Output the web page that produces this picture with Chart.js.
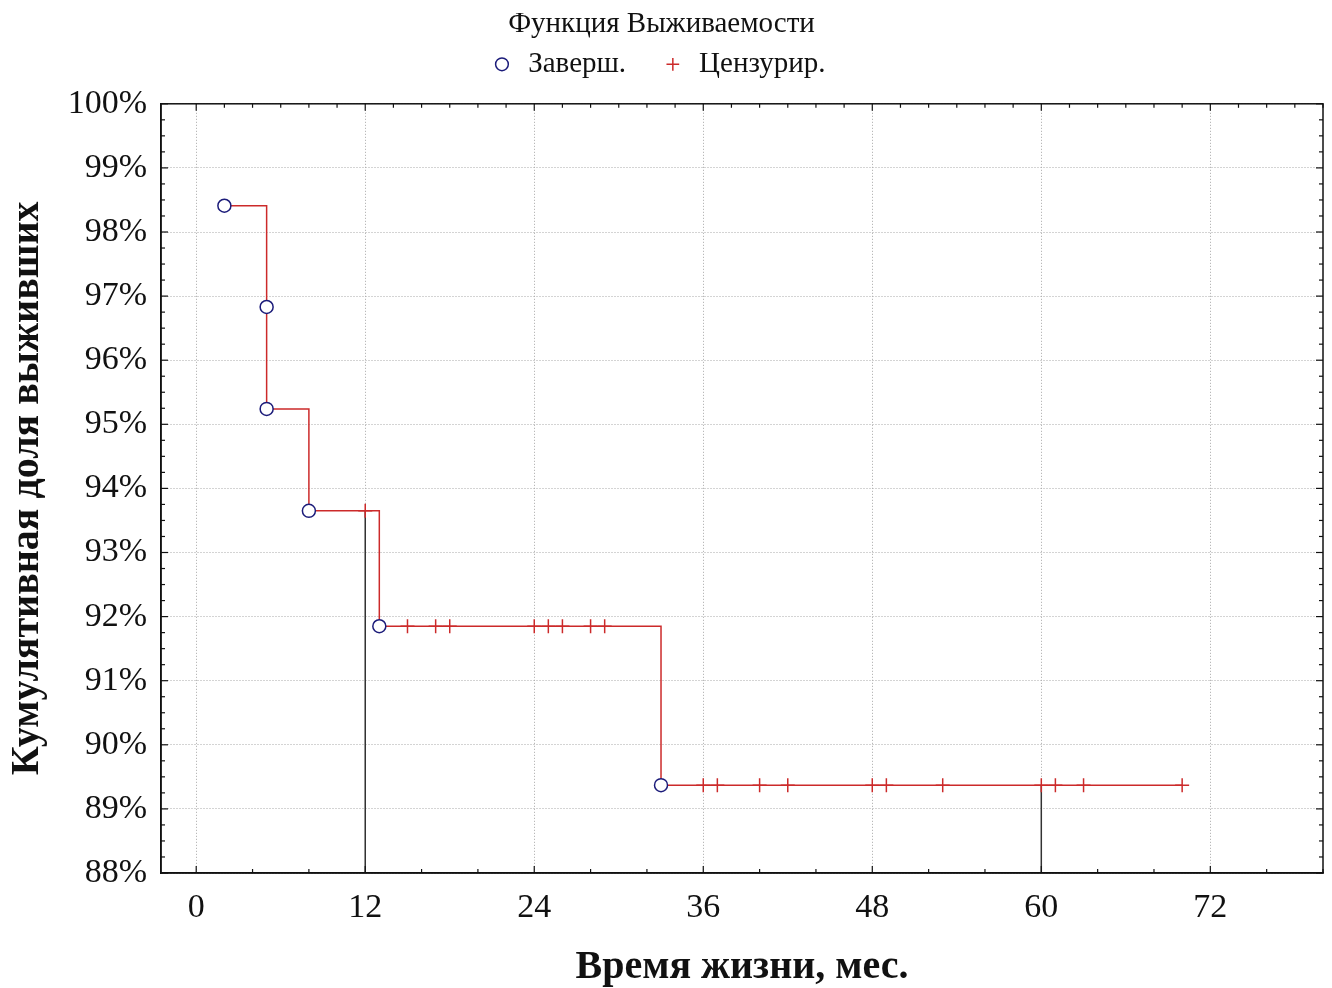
<!DOCTYPE html>
<html>
<head>
<meta charset="utf-8">
<script src="https://cdn.jsdelivr.net/npm/chart.js@4.4.1/dist/chart.umd.min.js"></script>
<style>
  html, body { margin: 0; padding: 0; background: #fff; }
  #wrap { width: 1332px; height: 988px; }
</style>
</head>
<body>
<div id="wrap"><canvas id="km"></canvas></div>
<script>
// Событие (завершённые) и цензурированные наблюдения
const eventTimes = [2, 5, 5, 8, 13, 33];
const eventSurv = [98.41, 96.83, 95.24, 93.65, 91.85, 89.37];
const censTimes = [12, 15, 17, 18, 24, 25, 26, 28, 29, 36, 37, 40, 42, 48, 49, 53, 60, 61, 63, 70];
const dropTimes = [12, 60];
const xTicks = [0, 12, 24, 36, 48, 60, 72];
const yTicks = [88, 89, 90, 91, 92, 93, 94, 95, 96, 97, 98, 99, 100];

const X_MIN = -2.5, X_MAX = 80, Y_MIN = 88, Y_MAX = 100;
const FONT = "'Liberation Serif', 'Times New Roman', serif";
const RED = '#cc2a2a';
const NAVY = '#1c1c7a';

function survAt(t) {
    let s = 100;
    eventTimes.forEach((et, i) => { if (et <= t) s = eventSurv[i]; });
    return s;
}

const eventPts = eventTimes.map((t, i) => ({ x: t, y: eventSurv[i] }));
const censPts = censTimes.map(t => ({ x: t, y: survAt(t) }));
const stepTimes = [...new Set(eventTimes)].concat([censTimes[censTimes.length - 1]]);
const stepPts = stepTimes.map(t => ({ x: t, y: survAt(t) }));
const dropPts = dropTimes.flatMap(t => [{ x: t, y: survAt(t) }, { x: t, y: Y_MIN }, { x: t, y: null }]);

// лишнее место под легендой
const legendGap = {
    id: 'legendGap',
    beforeLayout(chart) {
        const lg = chart.legend;
        if (lg && !lg._gapPatched) {
            const fit = lg.fit;
            lg.fit = function () { fit.call(this); this.height += 15; };
            lg._gapPatched = true;
        }
    }
};

// рамка и внутренние засечки
const frameTicks = {
    id: 'frameTicks',
    afterDraw(chart) {
        const { ctx, chartArea: a, scales: { x, y } } = chart;
        ctx.save();
        ctx.strokeStyle = '#111';
        ctx.lineWidth = 1.5;
        ctx.strokeRect(a.left, a.top, a.right - a.left, a.bottom - a.top);
        ctx.lineWidth = 1.2;
        const tick = (x1, y1, x2, y2) => { ctx.beginPath(); ctx.moveTo(x1, y1); ctx.lineTo(x2, y2); ctx.stroke(); };
        // низ: каждые 4 мес, верх: каждые 2 мес
        for (let v = 0; v <= X_MAX; v += 2) {
            const px = x.getPixelForValue(v);
            const major = v % 12 === 0;
            tick(px, a.top, px, a.top + (major ? 7 : 4));
            if (v % 4 === 0) tick(px, a.bottom, px, a.bottom - (major ? 7 : 4));
        }
        for (let v = Y_MIN; v <= Y_MAX; v += 0.25) {
            const py = y.getPixelForValue(v);
            const major = Math.abs(v - Math.round(v)) < 1e-6;
            const len = major ? 7 : 4;
            tick(a.left, py, a.left + len, py);
            tick(a.right, py, a.right - len, py);
        }
        ctx.restore();
    }
};

document.addEventListener('DOMContentLoaded', () => {
    const ctx = document.getElementById('km').getContext('2d');
    new Chart(ctx, {
        type: 'scatter',
        data: {
            datasets: [{
                label: 'Заверш.',
                data: eventPts,
                pointStyle: 'circle',
                pointRadius: 6.5,
                pointBorderWidth: 1.5,
                borderColor: NAVY,
                backgroundColor: '#ffffff',
                showLine: false
            }, {
                label: 'Цензурир.',
                data: censPts,
                pointStyle: 'cross',
                pointRadius: 7,
                pointBorderWidth: 1.5,
                borderColor: RED,
                backgroundColor: RED,
                showLine: false
            }, {
                label: 'step',
                data: stepPts,
                showLine: true,
                stepped: 'before',
                borderColor: RED,
                borderWidth: 1.5,
                pointRadius: 0
            }, {
                label: 'drop',
                data: dropPts,
                showLine: true,
                spanGaps: false,
                borderColor: '#333333',
                borderWidth: 1.5,
                pointRadius: 0
            }]
        },
        options: {
            responsive: true,
            maintainAspectRatio: false,
            animation: false,
            layout: { padding: { left: 0, right: 9, top: 0, bottom: 0 } },
            scales: {
                x: {
                    type: 'linear',
                    min: X_MIN,
                    max: X_MAX,
                    afterBuildTicks: s => { s.ticks = xTicks.map(v => ({ value: v })); },
                    afterFit: s => { s.height = 115; },
                    ticks: { color: '#111', font: { family: FONT, size: 34 }, padding: 15 },
                    grid: { color: '#a8a8a8', lineWidth: 1, drawTicks: false },
                    border: { color: '#111', width: 1.5, dash: [1, 2] },
                    title: {
                        display: true,
                        text: 'Время жизни, мес.',
                        color: '#111',
                        font: { family: FONT, size: 40, weight: 'bold', lineHeight: 1 },
                        padding: { top: 0, bottom: 0 }
                    }
                },
                y: {
                    type: 'linear',
                    min: Y_MIN,
                    max: Y_MAX,
                    afterBuildTicks: s => { s.ticks = yTicks.map(v => ({ value: v })); },
                    afterFit: s => { s.width = 161; },
                    ticks: { color: '#111', font: { family: FONT, size: 34 }, padding: 14, callback: v => v + '%' },
                    grid: { color: '#a8a8a8', lineWidth: 1, drawTicks: false },
                    border: { color: '#111', width: 1.5, dash: [1, 2] },
                    title: {
                        display: true,
                        text: 'Кумулятивная доля выживших',
                        color: '#111',
                        font: { family: FONT, size: 40, weight: 'bold', lineHeight: 1.2 },
                        padding: { top: 4, bottom: 0 }
                    }
                }
            },
            plugins: {
                title: {
                    display: true,
                    text: 'Функция Выживаемости',
                    color: '#111',
                    font: { family: FONT, size: 29, weight: 'normal' },
                    padding: { top: 7, bottom: 2 }
                },
                legend: {
                    display: true,
                    labels: {
                        usePointStyle: true,
                        boxWidth: 9,
                        boxHeight: 9,
                        padding: 6,
                        color: '#111',
                        font: { family: FONT, size: 29 },
                        filter: item => item.datasetIndex < 2,
                        generateLabels: chart => Chart.defaults.plugins.legend.labels.generateLabels(chart)
                            .map((l, i) => Object.assign(l, { text: ' ' + l.text + (i === 0 ? '     ' : '') }))
                    }
                },
                tooltip: { enabled: false }
            }
        },
        plugins: [frameTicks, legendGap]
    });
});
</script>
</body>
</html>
